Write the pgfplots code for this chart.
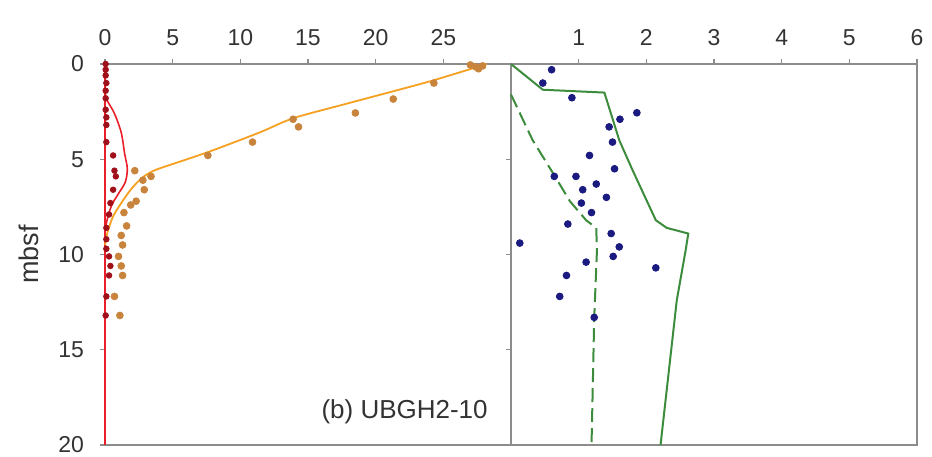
\documentclass[border=0pt]{standalone}
\usepackage{fontspec}
\setmainfont{Liberation Sans}
\usepackage{pgfplots}
\pgfplotsset{compat=1.18}

\definecolor{axgray}{HTML}{8C8C8C}
\definecolor{txtgray}{HTML}{333333}
\definecolor{redline}{HTML}{E8202A}
\definecolor{redmark}{HTML}{A0101A}
\definecolor{orgline}{HTML}{F5A020}
\definecolor{orgmark}{HTML}{C8843C}
\definecolor{grn}{HTML}{3C8C3C}
\definecolor{navy}{HTML}{1A1A80}

\pgfplotsset{
  panel/.style={
    scale only axis, width=203pt, height=190.5pt,
    ymin=0, ymax=20, y dir=reverse,
    ytick={0,5,...,20},
    axis line style={axgray, line width=0.6pt},
    tick style={axgray, line width=0.6pt},
    major tick length=2.5pt,
    tick align=outside,
    xtick pos=right, xticklabel pos=right,
    ytick pos=left,
    /pgf/number format/assume math mode=true,
    ticklabel style={font=\fontsize{11.5}{13}\selectfont, text=txtgray},
    xticklabel style={yshift=3pt},
    yticklabel style={xshift=-4.5pt},
    clip=false,
  },
}

\begin{document}
\begin{tikzpicture}
\useasboundingbox (-52.5pt,-5.5pt) rectangle (413.5pt,222.5pt);

% left panel
\begin{axis}[panel, name=left, at={(0,0)}, anchor=south west,
  xmin=0, xmax=30, xtick={0,5,...,25},
  ylabel={mbsf},
  ylabel style={at={(axis description cs:0,0.5)}, anchor=center, yshift=38pt,
    font=\fontsize{13.5}{15}\selectfont, text=txtgray},
]
\addplot[redline, line width=0.8pt] coordinates {(0,0) (0,20)};
\addplot[redline, line width=0.8pt, smooth] coordinates {
(0,1.5) (0.15,1.9) (0.7,2.6) (1.2,3.6) (1.45,4.7) (1.65,5.5) (1.5,6.2)
(1.0,6.8) (0.5,7.4) (0.15,8.2) (0,8.8)};
\addplot[orgline, line width=0.9pt, smooth] coordinates {
(28.2,0) (24.3,0.85) (21.2,1.45) (17.5,2.15) (13.9,2.85) (11.4,3.6) (7.7,4.6)
(5,5.25) (3.6,5.6) (2.7,6.0) (1.9,6.6) (1.2,7.3) (0.6,8.0) (0.2,8.8) (0,9.5)};
\addplot[only marks, mark=*, mark size=1.7pt, mark options={draw=orgmark, fill=orgmark}] coordinates {
(27.0,0.05) (27.6,0.25) (27.9,0.1) (27.4,0.15)
(24.3,1.0) (21.3,1.84) (18.5,2.57) (13.9,2.9) (14.3,3.3) (10.9,4.1) (7.6,4.8)
(2.2,5.6) (3.4,5.9) (2.8,6.1) (2.9,6.6) (2.3,7.2) (1.9,7.4) (1.4,7.8)
(1.6,8.5) (1.2,9.0) (1.3,9.5) (1.0,10.1) (1.2,10.6) (1.3,11.1) (0.7,12.2) (1.1,13.2)};
\addplot[only marks, mark=*, mark size=1.4pt, mark options={draw=redmark, fill=redmark}] coordinates {
(0.05,0) (0.05,0.3) (0.05,0.6) (0.1,1.0) (0.05,1.4) (0.05,1.8) (0.05,2.4) (0.1,2.8)
(0.1,3.2) (0.1,4.1) (0.6,4.8) (0.7,5.6) (0.8,5.9) (0.6,6.6) (0.4,7.3) (0.3,7.9)
(0.1,8.6) (0.1,9.2) (0.1,9.7) (0.3,10.1) (0.4,10.6) (0.3,11.1) (0.1,12.2) (0.05,13.2)};
\node[anchor=base east, font=\fontsize{13}{15}\selectfont, text=txtgray]
  at (axis cs:28.8,18.6) {(b) UBGH2-10};
\end{axis}

% right panel
\begin{axis}[panel, at={(left.south east)}, anchor=south west,
  xmin=0, xmax=6, xtick={1,...,6},
  yticklabels={},
]
\addplot[grn, line width=1pt] coordinates {
(0,0) (0.47,1.35) (1.38,1.5) (1.6,4) (1.8,5.6) (2.14,8.2) (2.3,8.6) (2.62,8.9)
(2.58,9.8) (2.45,12.4) (2.21,20)};
\addplot[grn, line width=1pt, dash pattern=on 7pt off 3pt] coordinates {
(0,1.6) (0.32,4.0) (0.65,5.9) (0.87,7.2) (1.11,8.2) (1.26,8.6) (1.27,9.8)
(1.23,13.3) (1.19,20)};
\addplot[only marks, mark=*, mark size=1.7pt, mark options={draw=navy, fill=navy}] coordinates {
(0.6,0.3) (0.47,1.0) (0.9,1.77) (1.86,2.56) (1.61,2.9) (1.45,3.3) (1.5,4.1)
(1.16,4.8) (1.53,5.5) (0.64,5.9) (0.96,5.9) (1.26,6.3) (1.06,6.6) (1.41,7.0)
(1.04,7.3) (1.19,7.8) (0.84,8.4) (1.48,8.9) (0.13,9.4) (1.6,9.6) (1.51,10.1)
(1.11,10.4) (2.14,10.7) (0.82,11.1) (0.72,12.2) (1.23,13.3)};
\end{axis}
\end{tikzpicture}
\end{document}
